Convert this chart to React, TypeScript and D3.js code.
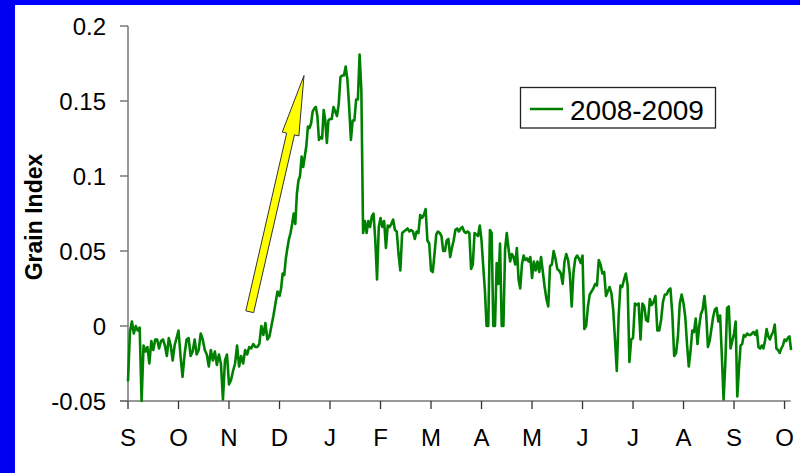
import * as d3 from 'd3'

// Month tick labels, Sep 2008 .. Oct 2009
const monthLabels = ['S', 'O', 'N', 'D', 'J', 'F', 'M', 'A', 'M', 'J', 'J', 'A', 'S', 'O']
const yTicks = [-0.05, 0, 0.05, 0.1, 0.15, 0.2]
const seriesName = '2008-2009'

// Daily grain index values, one array per month
const sep08 = [-0.037, -0.004, 0.003, -0.005, 0.0, -0.003, -0.001, -0.05, -0.013, -0.017, -0.014, -0.025, -0.01, -0.016, -0.009, -0.009, -0.015, -0.01, -0.009, -0.013, -0.02, -0.008, -0.013, -0.023, -0.013, -0.008]
const oct08 = [-0.003, -0.02, -0.034, -0.019, -0.009, -0.008, -0.02, -0.017, -0.009, -0.019, -0.016, -0.005, -0.009, -0.016, -0.019, -0.027, -0.016, -0.023, -0.017, -0.026, -0.019, -0.025, -0.049, -0.023, -0.019]
const nov08 = [-0.039, -0.036, -0.03, -0.025, -0.013, -0.027, -0.02, -0.025, -0.016, -0.019, -0.014, -0.015, -0.012, -0.014, -0.014, -0.012, 0.0, -0.006, 0.002, -0.009, -0.007, 0.0, 0.007, 0.015, 0.023]
const dec08 = [0.02, 0.025, 0.035, 0.034, 0.045, 0.052, 0.058, 0.062, 0.068, 0.075, 0.068, 0.088, 0.097, 0.1, 0.113, 0.106, 0.113, 0.12, 0.133, 0.132, 0.135, 0.143, 0.145, 0.146, 0.14, 0.124, 0.126, 0.125, 0.144, 0.137, 0.122, 0.137]
const jan09 = [0.138, 0.138, 0.146, 0.143, 0.14, 0.148, 0.166, 0.167, 0.167, 0.173, 0.164, 0.146, 0.124, 0.137, 0.137, 0.151, 0.151, 0.181, 0.157, 0.062, 0.07, 0.062, 0.07, 0.066, 0.073, 0.075, 0.057, 0.031, 0.066]
const feb09 = [0.072, 0.066, 0.07, 0.052, 0.067, 0.066, 0.068, 0.071, 0.064, 0.063, 0.048, 0.037, 0.062, 0.063, 0.064, 0.065, 0.063, 0.064, 0.063, 0.058, 0.063, 0.062, 0.074, 0.072, 0.074, 0.078, 0.057, 0.055]
const mar09 = [0.037, 0.036, 0.048, 0.061, 0.063, 0.062, 0.06, 0.05, 0.05, 0.057, 0.058, 0.046, 0.052, 0.057, 0.064, 0.065, 0.063, 0.065, 0.066, 0.063, 0.062, 0.063, 0.062, 0.038, 0.041, 0.062, 0.061, 0.06, 0.067]
const apr09 = [0.057, 0.04, 0.024, 0.0, 0.0, 0.064, 0.062, 0.0, 0.0, 0.042, 0.028, 0.055, 0.0, 0.0, 0.051, 0.062, 0.052, 0.043, 0.048, 0.046, 0.041, 0.052, 0.031, 0.025, 0.041, 0.047, 0.044, 0.045, 0.043, 0.046]
const may09 = [0.032, 0.043, 0.037, 0.043, 0.036, 0.046, 0.036, 0.026, 0.018, 0.013, 0.04, 0.041, 0.05, 0.045, 0.038, 0.037, 0.035, 0.028, 0.043, 0.048, 0.044, 0.034, 0.013, 0.036, 0.045, 0.047, 0.045, 0.042]
const jun09 = [0.047, -0.002, 0.0, 0.013, 0.021, 0.023, 0.025, 0.028, 0.027, 0.044, 0.041, 0.035, 0.036, 0.02, 0.023, 0.026, 0.022, 0.011, -0.009, -0.03, 0.006, 0.027, 0.026, 0.031, 0.035, 0.027, -0.024, -0.009]
const jul09 = [-0.008, 0.015, 0.014, 0.015, -0.009, 0.015, 0.013, 0.004, 0.003, 0.018, 0.014, 0.016, 0.02, -0.003, -0.003, 0.004, 0.016, 0.021, 0.021, 0.024, 0.025, 0.008, -0.02, -0.018, -0.007, 0.015, 0.021]
const aug09 = [0.015, 0.006, -0.012, -0.027, -0.017, -0.003, -0.004, 0.005, -0.012, 0.0, 0.008, 0.011, 0.02, 0.008, -0.014, -0.01, -0.002, 0.006, 0.011, 0.012, 0.003, 0.007, -0.02, -0.049, -0.025, 0.012, 0.013, -0.015, -0.01]
const sep09 = [-0.005, 0.003, -0.047, -0.029, -0.013, -0.012, -0.006, -0.007, -0.005, -0.006, -0.006, -0.005, -0.004, -0.006, -0.003, -0.014, -0.015, -0.013, -0.015, -0.01, -0.002, -0.007, -0.009, -0.006, -0.004, 0.001, -0.015, -0.016, -0.018, -0.015, -0.013]
const oct09 = [-0.009, -0.01, -0.008, -0.007, -0.016]

const months = [sep08, oct08, nov08, dec08, jan09, feb09, mar09, apr09, may09, jun09, jul09, aug09, sep09, oct09]

// arrow annotation: tail and tip in (month, index) units
const arrowTail = { t: 2.41, v: 0.0095 }
const arrowTip = { t: 3.485, v: 0.167 }

type Pt = { t: number; v: number }

const width = 800
const height = 473
const font = 'Arial, "Liberation Sans", Helvetica, sans-serif'

export default function App() {
  const x = d3.scaleLinear().domain([0, 13.12]).range([128, 790.6])
  const y = d3.scaleLinear().domain([-0.05, 0.2]).range([401, 26])

  // spread each month's trading days evenly over that month; the partial
  // last month keeps the previous month's spacing
  const points: Pt[] = months.flatMap((arr, m) => {
    const n = m === months.length - 1 ? months[m - 1].length : arr.length
    return arr.map((v, i) => ({ t: m + i / n, v }))
  })

  const line = d3.line<Pt>().x((d) => x(d.t)).y((d) => y(d.v))

  // arrow polygon in pixel space
  const x0 = x(arrowTail.t), y0 = y(arrowTail.v)
  const x1 = x(arrowTip.t), y1 = y(arrowTip.v)
  const len = Math.hypot(x1 - x0, y1 - y0)
  const ux = (x1 - x0) / len, uy = (y1 - y0) / len
  const px = -uy, py = ux
  const shaftW = 4, headW = 8.5, headL = 60
  const bx = x1 - ux * headL, by = y1 - uy * headL
  const arrowPts = [
    [x0 + px * shaftW, y0 + py * shaftW],
    [bx + px * shaftW, by + py * shaftW],
    [bx + px * headW, by + py * headW],
    [x1, y1],
    [bx - px * headW, by - py * headW],
    [bx - px * shaftW, by - py * shaftW],
    [x0 - px * shaftW, y0 - py * shaftW],
  ].map((p) => p.join(',')).join(' ')

  const [xMin, xMax] = x.range()
  const [yBottom, yTop] = y.range()
  const monthTicks = monthLabels.map((_, i) => i)

  return (
    <svg width={width} height={height} style={{ position: 'absolute', left: 0, top: 0 }} fontFamily={font}>
      <rect x={0} y={0} width={width} height={height} fill="#fff" />
      {/* blue slide frame */}
      <rect x={0} y={0} width={width} height={5} fill="#0000ff" />
      <rect x={0} y={0} width={15} height={height} fill="#0000f0" />

      {/* y axis */}
      <line x1={xMin} x2={xMin} y1={yTop} y2={yBottom} stroke="#777" strokeWidth={1.5} />
      {yTicks.map((t) => (
        <g key={t}>
          <line x1={xMin - 8} x2={xMin} y1={y(t)} y2={y(t)} stroke="#777" strokeWidth={1.5} />
          <text x={106} y={y(t)} dy="0.36em" textAnchor="end" fontSize={24} fill="#000">
            {String(t)}
          </text>
        </g>
      ))}
      <text transform="translate(42,217) rotate(-90)" textAnchor="middle" fontSize={23} fontWeight="bold" fill="#000">
        Grain Index
      </text>

      {/* x axis */}
      <line x1={xMin - 8} x2={xMax} y1={yBottom} y2={yBottom} stroke="#777" strokeWidth={1.5} />
      {monthTicks.map((m) => (
        <g key={m}>
          <line x1={x(m)} x2={x(m)} y1={yBottom} y2={yBottom + 8} stroke="#333" strokeWidth={1.3} />
          <text x={x(m)} y={446} textAnchor="middle" fontSize={24} fill="#000">
            {monthLabels[m]}
          </text>
        </g>
      ))}

      {/* series */}
      <path d={line(points) ?? ''} fill="none" stroke="#008000" strokeWidth={2.6} strokeLinejoin="round" />

      {/* arrow */}
      <polygon points={arrowPts} fill="#ffff00" stroke="#333" strokeWidth={1} strokeLinejoin="miter" />

      {/* legend */}
      <rect x={520.5} y={87.5} width={195} height={40.5} fill="#fff" stroke="#222" strokeWidth={1.3} />
      <line x1={530} x2={563} y1={109} y2={109} stroke="#008000" strokeWidth={2.6} />
      <text x={570} y={120} fontSize={28} fill="#000">
        {seriesName}
      </text>
    </svg>
  )
}
